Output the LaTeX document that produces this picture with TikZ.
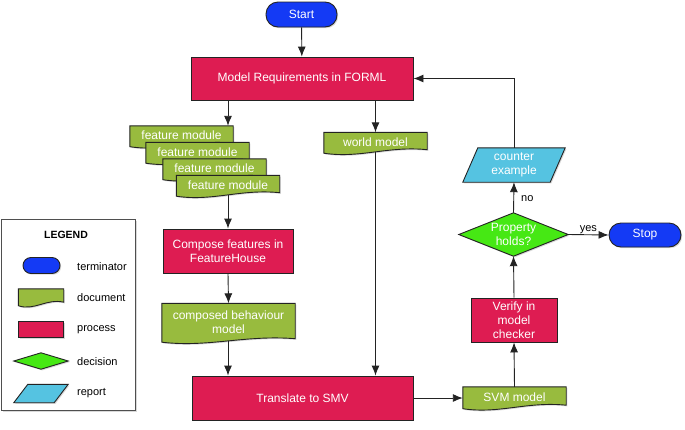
\documentclass[tikz,border=0pt]{standalone}
\usepackage{fontspec}
\setmainfont{Liberation Sans}
\usetikzlibrary{arrows.meta,calc,shadows,positioning}
\pgfdeclarelayer{backmost}
\pgfdeclarelayer{background}
\pgfsetlayers{backmost,background,main}
\definecolor{termc}{RGB}{20,58,245}
\definecolor{docc}{RGB}{152,187,62}
\definecolor{procc}{RGB}{222,28,82}
\definecolor{decc}{RGB}{70,232,20}
\definecolor{repc}{RGB}{85,195,225}
\definecolor{linec}{RGB}{35,35,35}
\tikzset{
  base/.style={inner sep=0pt, align=center, text=white, font=\fontsize{12}{14}\selectfont},
  shad/.style={drop shadow={opacity=0.3,shadow xshift=1.2pt,shadow yshift=-1.2pt}},
  termbox/.style={base, draw=linec, line width=0.9pt, fill=termc, rounded corners=12pt, shad},
  procbox/.style={base, draw=linec, line width=0.9pt, fill=procc, shad},
  docbox/.style={base},
  shapebox/.style={base},
  docfill/.style={draw=linec, line width=0.9pt, fill=docc, shad},
  decfill/.style={draw=linec, line width=0.9pt, fill=decc, shad},
  repfill/.style={draw=linec, line width=0.9pt, fill=repc, shad},
  arr/.style={draw=linec, line width=0.9pt, -{Latex[length=10pt,width=8pt]}},
  lbl/.style={inner sep=0pt, text=black, font=\fontsize{11}{13}\selectfont},
  leglbl/.style={inner sep=0pt, anchor=west, text=black, font=\fontsize{11}{13}\selectfont},
}
\newcommand\docshape[1]{%
  \begin{pgfonlayer}{background}
  \path[docfill] (#1.north west) -- (#1.north east) -- ([yshift=2pt]#1.south east)
    .. controls ($(#1.south west)!0.62!(#1.south east)+(0,6pt)$) and ($(#1.south west)!0.35!(#1.south east)+(0,-7pt)$) .. ([yshift=-1.5pt]#1.south west) -- cycle;
  \end{pgfonlayer}}
\newcommand\decshape[1]{%
  \begin{pgfonlayer}{background}
  \path[decfill] (#1.north) -- (#1.east) -- (#1.south) -- (#1.west) -- cycle;
  \end{pgfonlayer}}
\newcommand\repshape[2]{%
  \begin{pgfonlayer}{background}
  \path[repfill] ([xshift=#2]#1.north west) -- (#1.north east) -- ([xshift=-#2]#1.south east) -- (#1.south west) -- cycle;
  \end{pgfonlayer}}
\begin{document}
\begin{tikzpicture}[x=1pt,y=-1pt]
\useasboundingbox (0,0) rectangle (685,429);

% main flow
\node[termbox, minimum width=71pt, minimum height=25pt] (start) at (301.5,14.5) {Start};
\node[procbox, minimum width=222pt, minimum height=43pt] (model) at (302,78.5) {Model Requirements in FORML};

\node[docbox, minimum width=103pt, minimum height=19pt] (fm1) at (181.5,135.5) {feature module};
\docshape{fm1}
\node[docbox, minimum width=103pt, minimum height=19pt] (fm2) at (197.5,152) {feature module};
\docshape{fm2}
\node[docbox, minimum width=103pt, minimum height=19pt] (fm3) at (214.5,168.5) {feature module};
\docshape{fm3}
\node[docbox, minimum width=103pt, minimum height=19pt] (fm4) at (228,185) {feature module};
\docshape{fm4}

\node[docbox, minimum width=103pt, minimum height=19pt] (world) at (375.5,142) {world model};
\docshape{world}

\node[procbox, minimum width=130pt, minimum height=44pt] (compose) at (228,251) {Compose features in\\FeatureHouse};

\node[docbox, minimum width=133pt, minimum height=37pt] (composed) at (228.5,322) {composed behaviour\\model};
\docshape{composed}

\node[procbox, minimum width=221pt, minimum height=44pt] (translate) at (302.5,398) {Translate to SMV};

\node[docbox, minimum width=103pt, minimum height=20pt] (svm) at (514.5,397) {SVM model};
\docshape{svm}

\node[procbox, minimum width=86pt, minimum height=44pt] (verify) at (514,320) {Verify in\\model\\checker};

\node[shapebox, minimum width=109pt, minimum height=43pt] (dec) at (513.5,234.5) {Property\\holds?};
\decshape{dec}

\node[termbox, minimum width=72pt, minimum height=24pt] (stop) at (645,235) {Stop};

\node[shapebox, minimum width=102pt, minimum height=34pt] (counter) at (514,165) {counter\\example};
\repshape{counter}{15pt}

% connectors
\draw[arr] (start) -- (model);
\draw[arr] (model.south -| compose) -- (fm1.north -| compose);
\draw[arr] (model.south -| world) -- (world.north);
\draw[arr] (fm4.south -| compose) -- (compose.north);
\draw[arr] (world.south) -- (translate.north -| world);
\draw[arr] (compose.south) -- (composed.north);
\draw[arr] (composed.south -| compose) -- (translate.north -| compose);
\draw[arr] (translate.east) -- (translate.east -| svm.west);
\draw[arr] (svm.north) -- (verify.south);
\draw[arr] (verify.north) -- (dec.south);
\draw[arr] (dec.east) -- (stop.west) node[lbl, pos=0.5, above=1pt] (yes) {yes};
\draw[arr] (dec.north) -- (counter.south) node[lbl, pos=0.45, right=7pt] (no) {no};
\draw[arr] (counter.north) |- (model.east);

% legend
\begin{pgfonlayer}{backmost}
\node[draw=linec!80, line width=0.9pt, fill=white, shad, minimum width=134pt, minimum height=191pt, anchor=north west, inner sep=0pt] (legend) at (1,219) {};
\end{pgfonlayer}
\node[inner sep=0pt, font=\fontsize{10.5}{12}\selectfont\bfseries] (legtitle) at (66,235) {LEGEND};

\node[termbox, minimum width=37pt, minimum height=16pt, rounded corners=8pt] (lterm) at (41.5,265.5) {};
\node[leglbl] (lterml) at (77,267) {terminator};

\node[docbox, minimum width=45pt, minimum height=15pt] (ldoc) at (41,296.5) {};
\docshape{ldoc}
\node[leglbl] (ldocl) at (77,298) {document};

\node[procbox, minimum width=45pt, minimum height=16pt] (lproc) at (41,329.5) {};
\node[leglbl] (lprocl) at (77,329.5) {process};

\node[shapebox, minimum width=54pt, minimum height=16pt] (ldec) at (41,361) {};
\decshape{ldec}
\node[leglbl] (ldecl) at (77,362) {decision};

\node[shapebox, minimum width=54pt, minimum height=18pt] (lrep) at (41,393.5) {};
\repshape{lrep}{14pt}
\node[leglbl] (lrepl) at (77,393.5) {report};
\end{tikzpicture}
\end{document}
